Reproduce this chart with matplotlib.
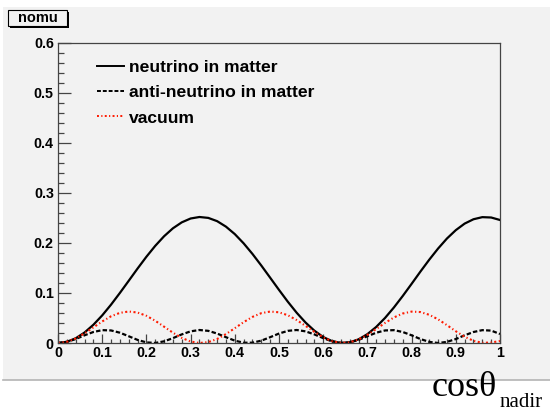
"""
Oscillation probability vs cos(theta_nadir): neutrino / anti-neutrino in matter and vacuum.
"""

import matplotlib

matplotlib.use("Agg")

import matplotlib.pyplot as plt
from matplotlib.lines import Line2D
from matplotlib.patches import Rectangle

W, H, DPI = 550, 411, 100

cos_nadir = [
    0.00, 0.02, 0.04, 0.06, 0.08, 0.10, 0.12, 0.14, 0.16, 0.18,
    0.20, 0.22, 0.24, 0.26, 0.28, 0.30, 0.32, 0.34, 0.36, 0.38,
    0.40, 0.42, 0.44, 0.46, 0.48, 0.50, 0.52, 0.54, 0.56, 0.58,
    0.60, 0.62, 0.64, 0.66, 0.68, 0.70, 0.72, 0.74, 0.76, 0.78,
    0.80, 0.82, 0.84, 0.86, 0.88, 0.90, 0.92, 0.94, 0.96, 0.98,
    1.00,
]

prob_nu_matter = [
    0.0000, 0.0024, 0.0094, 0.0209, 0.0364, 0.0552, 0.0767, 0.1001, 0.1244, 0.1489,
    0.1725, 0.1943, 0.2135, 0.2294, 0.2413, 0.2490, 0.2520, 0.2502, 0.2437, 0.2327,
    0.2178, 0.1993, 0.1781, 0.1549, 0.1306, 0.1062, 0.0825, 0.0605, 0.0410, 0.0247,
    0.0119, 0.0037, 0.0002, 0.0013, 0.0073, 0.0177, 0.0322, 0.0502, 0.0711, 0.0941,
    0.1183, 0.1429, 0.1667, 0.1890, 0.2090, 0.2257, 0.2388, 0.2475, 0.2517, 0.2510,
    0.2460,
]

prob_antinu_matter = [
    0.0000, 0.0022, 0.0079, 0.0154, 0.0220, 0.0257, 0.0251, 0.0206, 0.0135, 0.0062,
    0.0012, 0.0001, 0.0033, 0.0097, 0.0172, 0.0233, 0.0260, 0.0243, 0.0189, 0.0116,
    0.0047, 0.0006, 0.0006, 0.0047, 0.0116, 0.0189, 0.0243, 0.0260, 0.0233, 0.0172,
    0.0097, 0.0033, 0.0001, 0.0012, 0.0062, 0.0135, 0.0206, 0.0251, 0.0257, 0.0220,
    0.0154, 0.0079, 0.0022, 0.0000, 0.0022, 0.0079, 0.0154, 0.0220, 0.0257, 0.0248,
    0.0180,
]

prob_vacuum = [
    0.0000, 0.0024, 0.0091, 0.0192, 0.0311, 0.0431, 0.0534, 0.0603, 0.0630, 0.0609,
    0.0544, 0.0445, 0.0326, 0.0206, 0.0102, 0.0030, 0.0000, 0.0018, 0.0080, 0.0178,
    0.0296, 0.0417, 0.0522, 0.0597, 0.0629, 0.0614, 0.0555, 0.0459, 0.0343, 0.0223,
    0.0114, 0.0037, 0.0002, 0.0013, 0.0071, 0.0164, 0.0280, 0.0402, 0.0511, 0.0590,
    0.0628, 0.0619, 0.0564, 0.0473, 0.0357, 0.0235, 0.0125, 0.0044, 0.0003, 0.0010,
    0.0040,
]

x_ticks = [0.0, 0.1, 0.2, 0.3, 0.4, 0.5, 0.6, 0.7, 0.8, 0.9, 1.0]
x_tick_labels = ["0", "0.1", "0.2", "0.3", "0.4", "0.5", "0.6", "0.7", "0.8", "0.9", "1"]
y_ticks = [0.0, 0.1, 0.2, 0.3, 0.4, 0.5, 0.6]
y_tick_labels = ["0", "0.1", "0.2", "0.3", "0.4", "0.5", "0.6"]

series_labels = ["neutrino in matter", "anti-neutrino in matter", "vacuum"]

PAD_GRAY = "#f2f2f2"
SANS = ["Liberation Sans", "DejaVu Sans"]
SERIF = ["Liberation Serif", "DejaVu Serif"]


def px(x, y):
    """Pixel position (from top-left) to figure fraction."""
    return x / W, 1 - y / H


def main() -> None:
    plt.rcParams["font.family"] = SANS

    fig = plt.figure(figsize=(W / DPI, H / DPI), dpi=DPI, facecolor="white")

    # canvas pad, kept behind the axes
    x0, y0 = px(3, 380)
    fig.patches.append(
        Rectangle((x0, y0), 1 - x0, (380 - 7) / H, transform=fig.transFigure,
                  facecolor=PAD_GRAY, edgecolor="none", zorder=-2)
    )
    fig.lines.append(
        Line2D([x0, 1], [y0, y0], transform=fig.transFigure, color="#b4b4b4",
               lw=1.2, zorder=-1)
    )

    l, t = px(58, 43)
    r, b = px(500, 343)
    ax = fig.add_axes([l, b, r - l, t - b])
    ax.set_facecolor(PAD_GRAY)

    ax.plot(cos_nadir, prob_nu_matter, color="black", lw=1.6, label=series_labels[0])
    ax.plot(cos_nadir, prob_antinu_matter, color="black", lw=1.6,
            linestyle=(0, (2.0, 1.0)), label=series_labels[1])
    ax.plot(cos_nadir, prob_vacuum, color="#ff1a00", lw=1.5,
            linestyle=(0, (1.0, 1.2, 0.6, 1.2)), label=series_labels[2])

    ax.set_xlim(0, 1)
    ax.set_ylim(0, 0.6)

    ax.set_xticks(x_ticks)
    ax.set_xticklabels(x_tick_labels)
    ax.set_yticks(y_ticks)
    ax.set_yticklabels(y_tick_labels)
    ax.set_xticks([v / 50 for v in range(51)], minor=True)
    ax.set_yticks([v / 50 for v in range(31)], minor=True)

    for spine in ax.spines.values():
        spine.set_color("#444444")
        spine.set_linewidth(0.9)

    ax.tick_params(axis="both", which="both", direction="in", color="#444444",
                   width=0.9, labelsize=10.3)
    ax.tick_params(axis="x", which="major", length=6.5, pad=2)
    ax.tick_params(axis="x", which="minor", length=3.2)
    ax.tick_params(axis="y", which="major", length=9.1, pad=3)
    ax.tick_params(axis="y", which="minor", length=4.3)
    for lab in ax.get_xticklabels() + ax.get_yticklabels():
        lab.set_fontweight("bold")

    leg = ax.legend(
        loc="upper left",
        bbox_to_anchor=((96.7 - 58) / 442, (343 - 59.5) / 300),
        frameon=False,
        borderpad=0,
        borderaxespad=0,
        handlelength=1.55,
        handletextpad=0.3,
        labelspacing=0.58,
        prop={"family": SANS, "weight": "bold", "size": 12.6},
    )
    for h in leg.get_lines():
        h.set_linewidth(1.4)

    # title box in the upper-left corner
    bx0, by0 = px(8, 26)
    bw, bh = 59 / W, 16 / H
    fig.patches.append(
        Rectangle((bx0 + 1.5 / W, by0 - 1.5 / H), bw, bh, transform=fig.transFigure,
                  facecolor="black", edgecolor="none", zorder=2)
    )
    fig.patches.append(
        Rectangle((bx0, by0), bw, bh, transform=fig.transFigure,
                  facecolor=PAD_GRAY, edgecolor="black", lw=0.8, zorder=3)
    )
    fig.text(bx0 + bw / 2, by0 + bh / 2, "nomu", ha="center", va="center",
             fontsize=10.5, fontweight="bold", family=SANS, zorder=4)

    # x-axis title
    fig.text(*px(432, 396), "cosθ", ha="left", va="baseline", fontsize=26, family=SERIF)
    fig.text(*px(500, 407), "nadir", ha="left", va="baseline", fontsize=15, family=SERIF)

    fig.savefig("out.png", dpi=DPI, facecolor="white")
    plt.close(fig)


if __name__ == "__main__":
    main()
